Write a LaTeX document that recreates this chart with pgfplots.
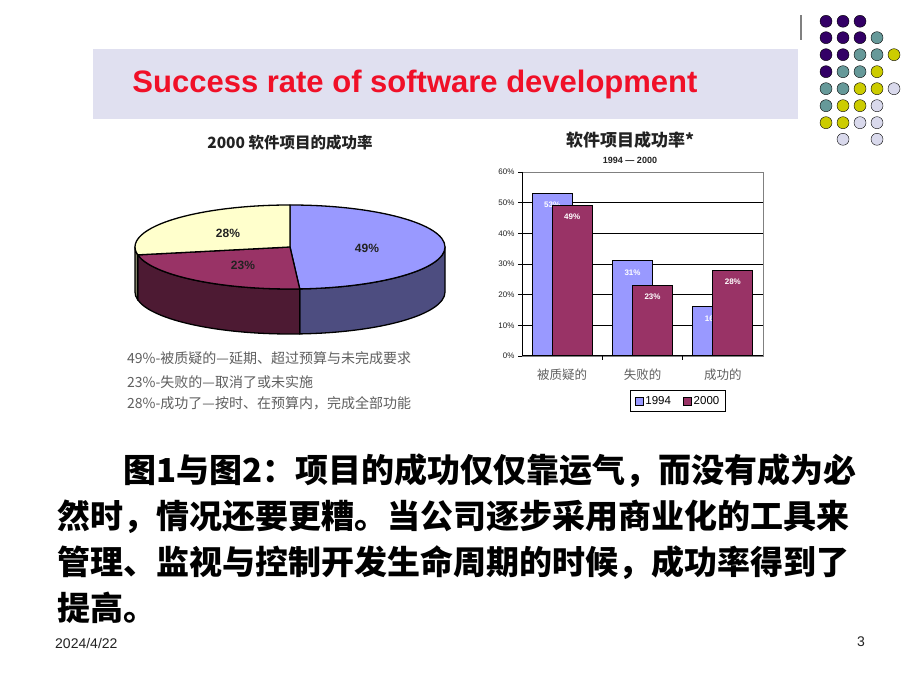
\documentclass[border=0pt]{standalone}
\usepackage{pgfplots}
\pgfplotsset{compat=1.18}
\usepackage{fontspec}
\setmainfont{Liberation Sans}
\newfontfamily\cjk{Noto Sans CJK SC}
\newfontfamily\arial{Liberation Sans}
\definecolor{band}{RGB}{224,224,240}
\definecolor{titlered}{RGB}{240,16,40}
\definecolor{cBlue}{RGB}{153,153,255}
\definecolor{cMaroon}{RGB}{153,51,102}
\definecolor{cYellow}{RGB}{255,255,204}
\definecolor{cBlueSide}{RGB}{77,77,128}
\definecolor{cMaroonSide}{RGB}{77,26,51}
\definecolor{cYellowSide}{RGB}{128,128,102}
\definecolor{dPurple}{RGB}{51,0,102}
\definecolor{dTeal}{RGB}{102,153,153}
\definecolor{dYellow}{RGB}{204,204,0}
\definecolor{dLav}{RGB}{217,217,236}
\definecolor{txtgray}{RGB}{95,95,95}
\definecolor{dark}{RGB}{34,34,34}
\pgfplotsset{barax/.style={at={(barSW)}, anchor=south west, scale only axis,
  width=241bp, height=184bp, xmin=-0.5, xmax=2.5, ymin=0, ymax=60, clip=false,
  /pgf/number format/assume math mode=true},
  barlbl/.style={nodes near coords={\pgfmathprintnumber{\pgfplotspointmeta}\%},
  every node near coord/.append style={anchor=north, yshift=-8bp, xshift=#1, inner sep=0pt,
    text=white, font=\arial\bfseries\fontsize{8bp}{8bp}\selectfont}}}
\begin{document}
\begin{tikzpicture}[x=1bp,y=1bp]
\fill[white] (0,0) rectangle (920,690);
\coordinate (barSW) at (522,334);
\fill[band] (93,571) rectangle (798,641);
\draw[gray, line width=1.5bp] (801,650) -- (801,675);
\node[font=\arial\bfseries\fontsize{31bp}{31bp}\selectfont, text=titlered] at (415,606) {Success rate of software development};

% decorative dots
\begin{axis}[at={(0,0)}, anchor=south west, scale only axis, width=920bp, height=690bp,
  xmin=0, xmax=920, ymin=0, ymax=690, hide axis, clip=false]
\addplot[only marks, mark=*, mark size=6bp, mark options={fill=dPurple, draw=none}] coordinates {
 (826,668.7) (843,668.7) (860,668.7) (826,652.3) (843,652.3) (860,652.3) (826,635.3) (843,635.3) (826,618.3)};
\addplot[only marks, mark=*, mark size=6bp, mark options={fill=dTeal, draw=none}] coordinates {
 (877,652.3) (860,635.3) (877,635.3) (843,618.3) (860,618.3) (826,601.3) (843,601.3) (826,584.3)};
\addplot[only marks, mark=*, mark size=6bp, mark options={fill=dYellow, draw=none}] coordinates {
 (894,635.3) (877,618.3) (860,601.3) (877,601.3) (843,584.3) (860,584.3) (826,567.3) (843,567.3)};
\addplot[only marks, mark=*, mark size=6bp, mark options={fill=dLav, draw=none}] coordinates {
 (894,601.3) (877,584.3) (860,567.3) (877,567.3) (843,550.7) (877,550.7)};
\end{axis}

% pie chart
\def\pA{49}\def\pB{23}\def\pC{28}
\pgfmathsetmacro\aA{90-3.6*\pA}
\pgfmathsetmacro\aB{\aA-3.6*\pB}
\def\pcx{290}\def\pcy{443}\def\prx{155}\def\pry{42}\def\pdep{45}
\node[font=\cjk\bfseries\fontsize{15.5bp}{15.5bp}\selectfont, text=dark] at (290,547) {2000 软件项目的成功率};
\begin{scope}[line width=1.3bp, line join=round, draw=black]
\filldraw[fill=cBlueSide] (\pcx,\pcy) ++(0:\prx bp and \pry bp) arc[start angle=0,end angle=\aA,x radius=\prx,y radius=\pry] -- ++(0,-\pdep) arc[start angle=\aA,end angle=0,x radius=\prx,y radius=\pry] -- cycle;
\filldraw[fill=cMaroonSide] (\pcx,\pcy) ++(\aA:\prx bp and \pry bp) arc[start angle=\aA,end angle=\aB,x radius=\prx,y radius=\pry] -- ++(0,-\pdep) arc[start angle=\aB,end angle=\aA,x radius=\prx,y radius=\pry] -- cycle;
\filldraw[fill=cYellowSide] (\pcx,\pcy) ++(\aB:\prx bp and \pry bp) arc[start angle=\aB,end angle=-180,x radius=\prx,y radius=\pry] -- ++(0,-\pdep) arc[start angle=-180,end angle=\aB,x radius=\prx,y radius=\pry] -- cycle;
\filldraw[fill=cBlue] (\pcx,\pcy) -- ++(90:\prx bp and \pry bp) arc[start angle=90,end angle=\aA,x radius=\prx,y radius=\pry] -- cycle;
\filldraw[fill=cMaroon] (\pcx,\pcy) -- ++(\aA:\prx bp and \pry bp) arc[start angle=\aA,end angle=\aB,x radius=\prx,y radius=\pry] -- cycle;
\filldraw[fill=cYellow] (\pcx,\pcy) -- ++(\aB:\prx bp and \pry bp) arc[start angle=\aB,end angle=-270,x radius=\prx,y radius=\pry] -- cycle;
\end{scope}
\begin{scope}[font=\arial\bfseries\fontsize{12bp}{12bp}\selectfont, text=dark]
\node at (367,442) {\pA\%};
\node at (243,425) {\pB\%};
\node at (228,457) {\pC\%};
\end{scope}
\begin{scope}[font=\cjk\fontsize{14bp}{14bp}\selectfont, text=txtgray]
\node[anchor=west, inner sep=0] at (127,332) {49\%-被质疑的—延期、超过预算与未完成要求};
\node[anchor=west, inner sep=0] at (127,308) {23\%-失败的—取消了或未实施};
\node[anchor=west, inner sep=0] at (127,287) {28\%-成功了—按时、在预算内，完成全部功能};
\end{scope}

% bar chart
\node[font=\cjk\bfseries\fontsize{17bp}{17bp}\selectfont, text=dark] at (630,550) {软件项目成功率*};
\node[font=\arial\bfseries\fontsize{9bp}{9bp}\selectfont, text=dark] at (630,530) {1994 — 2000};
\begin{axis}[barax,
  ytick={0,10,...,60}, yticklabel={\pgfmathprintnumber{\tick}\%},
  ytick pos=left, tick align=outside, major tick length=4bp,
  xtick={0,1,2}, xticklabels={被质疑的,失败的,成功的}, xtick style={draw=none},
  ymajorgrids, grid style={black, line width=0.8bp},
  axis line style={draw=gray, line width=0.8bp},
  tick style={black, line width=0.8bp},
  yticklabel style={font=\arial\fontsize{8bp}{8bp}\selectfont, text=dark},
  xticklabel style={font=\cjk\fontsize{12.5bp}{12.5bp}\selectfont, text=txtgray, yshift=-5bp},
  legend style={at={(0.647,-0.245)}, anchor=center, draw=black, line width=1bp,
    font=\arial\fontsize{11.5bp}{11.5bp}\selectfont, inner xsep=4bp, inner ysep=3.5bp,
    /tikz/every even column/.append style={column sep=10bp}},
  legend columns=2,
  legend image code/.code={\draw[#1, line width=0.8bp] (0bp,-4bp) rectangle (8bp,4bp);}]
\addplot[ybar, bar width=40bp, bar shift=-10bp, fill=cBlue, draw=black, line width=1bp, barlbl=-10bp]
  coordinates {(0,53) (1,31) (2,16)};
\addlegendentry{1994}
\addlegendimage{fill=cMaroon, draw=black}
\addlegendentry{2000}
\draw[black, line width=1bp] (rel axis cs:0,1) -- (rel axis cs:0,0) -- (rel axis cs:1,0);
\draw[black, line width=0.8bp] (axis cs:0.5,0) -- ([yshift=-4bp]axis cs:0.5,0);
\draw[black, line width=0.8bp] (axis cs:1.5,0) -- ([yshift=-4bp]axis cs:1.5,0);
\end{axis}
\begin{axis}[barax, hide axis]
\addplot[ybar, bar width=40bp, bar shift=10bp, fill=cMaroon, draw=black, line width=1bp, barlbl=10bp]
  coordinates {(0,49) (1,23) (2,28)};
\draw[black, line width=1bp] (rel axis cs:0,0) -- (rel axis cs:1,0);
\end{axis}

% paragraph
\begin{scope}[font=\cjk\bfseries\fontsize{33bp}{33bp}\selectfont, text=black]
\node[anchor=west, inner sep=0] at (123,219) {图1与图2：项目的成功仅仅靠运气，而没有成为必};
\node[anchor=west, inner sep=0] at (57,173) {然时，情况还要更糟。当公司逐步采用商业化的工具来};
\node[anchor=west, inner sep=0] at (57,127) {管理、监视与控制开发生命周期的时候，成功率得到了};
\node[anchor=west, inner sep=0] at (57,82) {提高。};
\end{scope}

% footer
\node[anchor=west, inner sep=0, font=\arial\fontsize{14bp}{14bp}\selectfont, text=dark] at (55,47) {2024/4/22};
\node[inner sep=0, font=\arial\fontsize{14bp}{14bp}\selectfont, text=dark] at (861,48) {3};
\end{tikzpicture}
\end{document}
